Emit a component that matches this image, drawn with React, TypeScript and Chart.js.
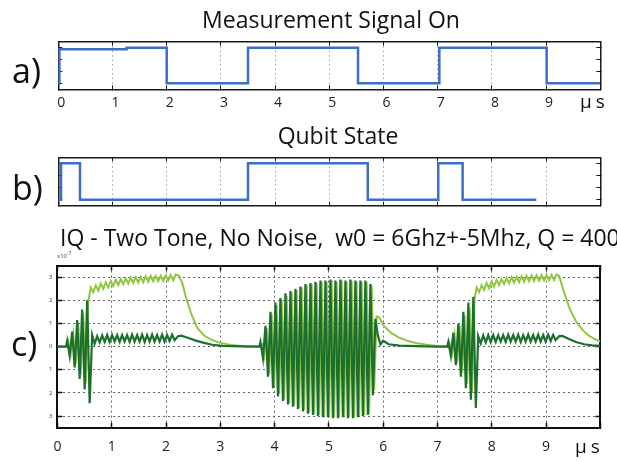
import React, { useEffect, useRef } from "react";
import { Chart, registerables } from "chart.js";

Chart.register(...registerables);

// ---------------- data ----------------
const timeTicks = [0, 1, 2, 3, 4, 5, 6, 7, 8, 9, 10];
const timeTickLabels = ["0", "1", "2", "3", "4", "5", "6", "7", "8", "9", ""];
const levelTicks = [0, 1, 2, 3];
const iqTicks = [-3, -2, -1, 0, 1, 2, 3];
const iqTickLabels = ["3", "2", "1", "0", "1", "2", "3"];

// a) measurement signal (level held from each time to the next)
const measureTimes = [0, 0.02, 1.26, 2.0, 3.5, 5.53, 7.03, 9.01, 10];
const measureLevels = [0, 2.87, 3, 0, 3, 0, 3, 0, 0];

// b) qubit state
const qubitTimes = [0, 0.05, 0.4, 3.5, 5.71, 7.01, 7.46, 8.82];
const qubitLevels = [0, 3, 0, 3, 0, 3, 0, 0];

// c) IQ traces (units of 1e-7), oscillation extremes every half beat period
const halfPeriod = 0.046;

// dark green trace
const qLeadT = [0, 0.16];
const qLeadV = [0, 0];
const qBurstAStart = 0.18;
const qBurstA = [0.25, -0.4, 0.65, -0.9, 1.15, -1.4, 1.6, -1.85, 2.0, -2.45];
const qPlateauAStart = 0.64;
const qPlateauA = [0.5, 0.12, 0.45, 0.18, 0.48, 0.2, 0.5, 0.2, 0.5, 0.22, 0.5, 0.2, 0.5, 0.22, 0.5, 0.2, 0.52, 0.22, 0.5, 0.22, 0.52, 0.2, 0.5, 0.22, 0.52, 0.22, 0.5, 0.22, 0.52, 0.22, 0.5, 0.24, 0.52, 0.28];
const qDecayAT = [2.22, 2.28, 2.4, 2.55, 2.7, 2.85, 3.05, 3.4, 3.72];
const qDecayAV = [0.45, 0.47, 0.38, 0.26, 0.16, 0.08, 0.03, 0.01, 0];
const qBurstBStart = 3.74;
const qBurstB = [0.2, -0.5, 0.9, -1.3, 1.5, -1.8, 1.9, -2.15, 2.1, -2.35, 2.3, -2.5, 2.4, -2.6, 2.5, -2.7, 2.6, -2.8, 2.7, -2.9, 2.75, -2.95, 2.8, -3.0, 2.85, -3.05, 2.85, -3.05, 2.9, -3.1, 2.85, -3.1, 2.9, -3.05, 2.85, -3.1, 2.9, -3.1, 2.85, -3.05, 2.85, -3.0, 2.85, -2.95, 2.7, -2.1, 1.2];
const qAfterBT = [5.9, 5.95, 6.0, 6.1, 6.3, 6.6, 7.0, 7.18];
const qAfterBV = [0.5, 0.1, 0.25, 0.1, 0.04, 0.02, 0, 0];
const qBurstCStart = 7.2;
const qBurstC = [0.2, -0.4, 0.6, -0.8, 1.0, -1.3, 1.5, -1.8, 1.9, -2.3, 2.15, -2.65];
const qPlateauCStart = 7.75;
const qPlateauC = [0.45, 0.14, 0.48, 0.18, 0.5, 0.2, 0.5, 0.2, 0.5, 0.22, 0.5, 0.2, 0.52, 0.22, 0.5, 0.22, 0.52, 0.2, 0.5, 0.22, 0.52, 0.22, 0.5, 0.22, 0.52, 0.22, 0.5, 0.22, 0.52, 0.24, 0.5, 0.28];
const qDecayCT = [9.24, 9.3, 9.4, 9.55, 9.7, 9.85, 10];
const qDecayCV = [0.45, 0.46, 0.35, 0.2, 0.1, 0.05, 0.03];

// light green trace
const iLeadT = [0, 0.18];
const iLeadV = [0, 0];
const iBurstAStart = 0.2;
const iBurstA = [0.2, -0.3, 0.55, -0.75, 1.0, -1.2, 1.4, -1.6, 1.95];
const iPlateauAStart = 0.615;
const iPlateauA = [2.55, 2.35, 2.65, 2.42, 2.72, 2.5, 2.78, 2.56, 2.84, 2.62, 2.88, 2.66, 2.92, 2.7, 2.95, 2.72, 2.98, 2.75, 3.0, 2.77, 3.02, 2.78, 3.04, 2.8, 3.05, 2.82, 3.06, 2.83, 3.07, 2.84, 3.08, 2.85, 3.1, 2.86, 3.12];
const iDecayAT = [2.24, 2.3, 2.36, 2.46, 2.58, 2.7, 2.83, 3.0, 3.2, 3.45, 3.76];
const iDecayAV = [3.05, 2.75, 2.2, 1.45, 0.8, 0.48, 0.3, 0.16, 0.07, 0.02, 0];
const iBurstBStart = 3.763;
const iBurstB = [0.15, -0.4, 0.8, -1.2, 1.4, -1.7, 1.8, -2.05, 2.0, -2.3, 2.2, -2.45, 2.35, -2.55, 2.45, -2.65, 2.55, -2.75, 2.65, -2.85, 2.7, -2.9, 2.75, -2.95, 2.8, -3.0, 2.8, -3.0, 2.85, -3.05, 2.8, -3.05, 2.85, -3.0, 2.8, -3.05, 2.85, -3.05, 2.8, -3.0, 2.8, -2.95, 2.8, -2.9, 2.65, -1.9, 1.3];
const iAfterBT = [5.9, 5.93, 5.97, 6.02, 6.15, 6.3, 6.45, 6.6, 6.8, 7.0, 7.2];
const iAfterBV = [1.3, 1.25, 1.05, 0.88, 0.58, 0.38, 0.25, 0.16, 0.08, 0.03, 0];
const iBurstCStart = 7.223;
const iBurstC = [0.15, -0.3, 0.5, -0.7, 0.9, -1.15, 1.35, -1.6, 1.7, -2.0, 2.05];
const iPlateauCStart = 7.72;
const iPlateauC = [2.55, 2.35, 2.65, 2.45, 2.75, 2.52, 2.82, 2.6, 2.88, 2.66, 2.92, 2.7, 2.96, 2.73, 3.0, 2.76, 3.02, 2.78, 3.04, 2.8, 3.06, 2.82, 3.07, 2.83, 3.08, 2.84, 3.09, 2.85, 3.1, 2.86, 3.1, 2.87, 3.12];
const iDecayCT = [9.24, 9.32, 9.44, 9.56, 9.68, 9.8, 9.9, 10];
const iDecayCV = [3.05, 2.43, 1.6, 1.05, 0.7, 0.45, 0.32, 0.22];

// ---------------- helpers ----------------
type Pt = { x: number; y: number };
const paired = (t: number[], v: number[]): Pt[] => t.map((x, i) => ({ x, y: v[i] }));
const evenly = (start: number, v: number[]): Pt[] => v.map((y, i) => ({ x: start + i * halfPeriod, y }));

const darkTrace: Pt[] = [
  ...paired(qLeadT, qLeadV),
  ...evenly(qBurstAStart, qBurstA),
  ...evenly(qPlateauAStart, qPlateauA),
  ...paired(qDecayAT, qDecayAV),
  ...evenly(qBurstBStart, qBurstB),
  ...paired(qAfterBT, qAfterBV),
  ...evenly(qBurstCStart, qBurstC),
  ...evenly(qPlateauCStart, qPlateauC),
  ...paired(qDecayCT, qDecayCV),
];
const lightTrace: Pt[] = [
  ...paired(iLeadT, iLeadV),
  ...evenly(iBurstAStart, iBurstA),
  ...evenly(iPlateauAStart, iPlateauA),
  ...paired(iDecayAT, iDecayAV),
  ...evenly(iBurstBStart, iBurstB),
  ...paired(iAfterBT, iAfterBV),
  ...evenly(iBurstCStart, iBurstC),
  ...evenly(iPlateauCStart, iPlateauC),
  ...paired(iDecayCT, iDecayCV),
];

const FONT = '"Open Sans", "Noto Sans", "DejaVu Sans", sans-serif';
const W = 617;

const fixedTicks = (values: number[]) => (scale: any) => {
  scale.ticks = values.map((value) => ({ value }));
};
const sized = (size: number) => (scale: any) => {
  if (scale.isHorizontal()) scale.height = size;
  else scale.width = size;
};

function stateConfig(times: number[], levels: number[], showLabels: boolean, padTop: number, xSize: number) {
  const tickStyle = { tickLength: -4, tickColor: "#1a1a1a", tickWidth: 1 };
  const border = { display: true, color: "#1a1a1a", width: 1.5 };
  return {
    type: "line",
    data: {
      datasets: [
        {
          data: paired(times, levels),
          stepped: "before",
          borderColor: "#3d6ec6",
          borderWidth: 2.5,
          pointRadius: 0,
          fill: false,
        },
      ],
    },
    options: {
      animation: false,
      responsive: false,
      events: [],
      layout: { padding: { left: 0, right: 16.7, top: padTop, bottom: 0 } },
      plugins: { legend: { display: false }, tooltip: { enabled: false } },
      scales: {
        x: {
          type: "linear", position: "bottom", min: 0, max: 10,
          afterBuildTicks: fixedTicks(timeTicks), afterFit: sized(xSize),
          grid: { drawOnChartArea: true, color: "#a0a0a0", lineWidth: 1, ...tickStyle },
          border: { ...border, dash: [1.5, 3] },
          ticks: {
            display: showLabels, autoSkip: false, maxRotation: 0, padding: 9.3, labelOffset: 3,
            color: "#222", font: { family: FONT, size: 14 },
            callback: (_v: any, i: number) => timeTickLabels[i],
          },
        },
        xTop: {
          type: "linear", position: "top", min: 0, max: 10,
          afterBuildTicks: fixedTicks(timeTicks), afterFit: sized(0),
          grid: { drawOnChartArea: false, ...tickStyle }, border, ticks: { display: false },
        },
        y: {
          type: "linear", position: "left", min: -0.5, max: 3.5,
          afterBuildTicks: fixedTicks(levelTicks), afterFit: sized(58.3),
          grid: { drawOnChartArea: false, ...tickStyle }, border, ticks: { display: false },
        },
        yRight: {
          type: "linear", position: "right", min: -0.5, max: 3.5,
          afterBuildTicks: fixedTicks(levelTicks), afterFit: sized(0),
          grid: { drawOnChartArea: false, ...tickStyle }, border, ticks: { display: false },
        },
      },
    },
  };
}

function iqConfig() {
  const tickStyle = { tickLength: -5, tickColor: "#111", tickWidth: 1.5 };
  const border = { display: true, color: "#111", width: 2 };
  return {
    type: "line",
    data: {
      datasets: [
        { data: darkTrace, borderColor: "#1d6f2e", borderWidth: 2.2, pointRadius: 0, fill: false, tension: 0 },
        { data: lightTrace, borderColor: "#8fc743", borderWidth: 2, pointRadius: 0, fill: false, tension: 0 },
      ],
    },
    options: {
      animation: false,
      responsive: false,
      events: [],
      layout: { padding: { left: 0, right: W - 600.4, top: 15.6, bottom: 0 } },
      plugins: { legend: { display: false }, tooltip: { enabled: false } },
      scales: {
        x: {
          type: "linear", position: "bottom", min: 0, max: 10,
          afterBuildTicks: fixedTicks(timeTicks), afterFit: sized(33.4),
          grid: { drawOnChartArea: true, color: "#666", lineWidth: 1, ...tickStyle },
          border: { ...border, dash: [2, 3] },
          ticks: {
            autoSkip: false, maxRotation: 0, padding: 15.7, color: "#222",
            font: { family: FONT, size: 14 },
            callback: (_v: any, i: number) => timeTickLabels[i],
          },
        },
        xTop: {
          type: "linear", position: "top", min: 0, max: 10,
          afterBuildTicks: fixedTicks(timeTicks), afterFit: sized(0),
          grid: { drawOnChartArea: false, ...tickStyle }, border, ticks: { display: false },
        },
        y: {
          type: "linear", position: "left", min: -3.5, max: 3.5,
          afterBuildTicks: fixedTicks(iqTicks), afterFit: sized(57.4),
          grid: { drawOnChartArea: true, color: "#666", lineWidth: 1, ...tickStyle },
          border: { ...border, dash: [2, 3] },
          ticks: {
            padding: 10, color: "#444", font: { family: FONT, size: 6 },
            callback: (_v: any, i: number) => iqTickLabels[i],
          },
        },
        yRight: {
          type: "linear", position: "right", min: -3.5, max: 3.5,
          afterBuildTicks: fixedTicks(iqTicks), afterFit: sized(0),
          grid: { drawOnChartArea: false, ...tickStyle }, border, ticks: { display: false },
        },
      },
    },
  };
}

function ChartCanvas({ top, height, make }: { top: number; height: number; make: () => any }) {
  const ref = useRef<HTMLCanvasElement | null>(null);
  useEffect(() => {
    if (!ref.current) return;
    const chart = new Chart(ref.current, make());
    return () => chart.destroy();
  }, []);
  return (
    <canvas
      ref={ref}
      width={W}
      height={height}
      style={{ position: "absolute", left: 0, top, width: W, height, display: "block" }}
    />
  );
}

function Text({ children, left, top, size, center, extra }: any) {
  return (
    <div
      style={{
        position: "absolute",
        left,
        top,
        fontFamily: FONT,
        fontSize: size,
        lineHeight: `${size}px`,
        color: "#111",
        whiteSpace: "pre",
        transform: center ? "translateX(-50%)" : undefined,
        ...extra,
      }}
    >
      {children}
    </div>
  );
}

export default function App() {
  return (
    <div style={{ position: "absolute", left: 0, top: 0, width: W, height: 461, overflow: "hidden", background: "#fff" }}>
      <ChartCanvas top={30} height={90} make={() => stateConfig(measureTimes, measureLevels, true, 11.7, 30.7)} />
      <ChartCanvas top={140} height={75} make={() => stateConfig(qubitTimes, qubitLevels, false, 17.3, 9.3)} />
      <ChartCanvas top={250} height={211} make={iqConfig} />

      <Text left={331} top={7.5} size={23} center>Measurement Signal On</Text>
      <Text left={338} top={123.5} size={23} center>Qubit State</Text>
      <Text left={60} top={225.5} size={23}>{"IQ - Two Tone, No Noise,  w0 = 6Ghz+-5Mhz, Q = 4000"}</Text>

      <Text left={12} top={53} size={34}>a)</Text>
      <Text left={12} top={170} size={34}>b)</Text>
      <Text left={11} top={326} size={34}>c)</Text>

      <Text left={580} top={91.5} size={19} extra={{ letterSpacing: "4px" }}>μs</Text>
      <Text left={575} top={437} size={19} extra={{ letterSpacing: "4px" }}>μs</Text>

      <Text left={57} top={250} size={6} extra={{ color: "#444" }}>
        x10<sup style={{ fontSize: 5 }}>-7</sup>
      </Text>
    </div>
  );
}
